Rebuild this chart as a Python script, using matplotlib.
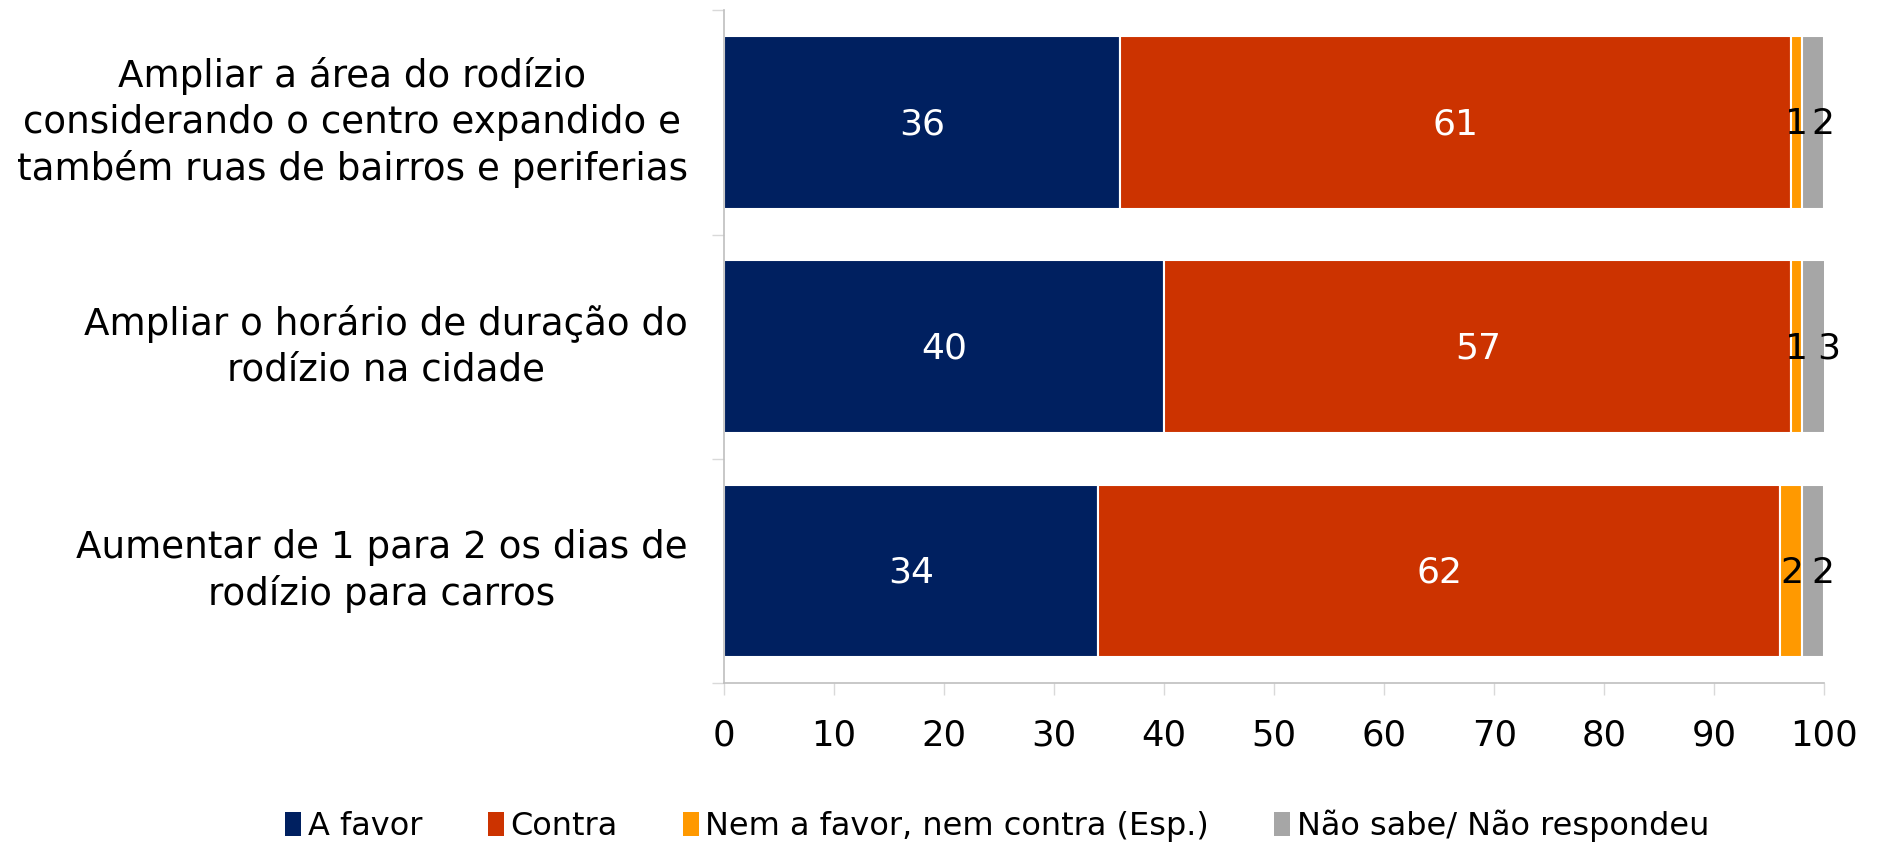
import matplotlib.pyplot as plt
from matplotlib.patches import Patch

categorias = [
    "Ampliar a área do rodízio\nconsiderando o centro expandido e\ntambém ruas de bairros e periferias",
    "Ampliar o horário de duração do\nrodízio na cidade",
    "Aumentar de 1 para 2 os dias de\nrodízio para carros",
]
a_favor = [36, 40, 34]
contra = [61, 57, 62]
nem = [1, 1, 2]
nao_sabe = [2, 3, 2]

series = ["A favor", "Contra", "Nem a favor, nem contra (Esp.)", "Não sabe/ Não respondeu"]
cores = ["#002060", "#CC3300", "#FF9900", "#A6A6A6"]
cor_texto = ["white", "white", "black", "black"]
desloc = [0, 0, 0, 7]  # deslocamento dos rotulos (pontos)

plt.rcParams["font.family"] = ["DejaVu Sans"]

fig = plt.figure(figsize=(18.78, 8.43), dpi=100)
ax = fig.add_axes([0.3855, 0.1898, 0.586, 0.798])

y = list(range(len(categorias)))
esquerda = [0] * len(categorias)
for nome, valores, cor, ct, dx in zip(series, [a_favor, contra, nem, nao_sabe], cores, cor_texto, desloc):
    ax.barh(y, valores, left=esquerda, height=0.77, color=cor,
            edgecolor="white", linewidth=1.5, label=nome)
    for yi, e, v in zip(y, esquerda, valores):
        ax.annotate(str(v), (e + v / 2, yi), xytext=(dx, -1.5), textcoords="offset points",
                    ha="center", va="center", color=ct, fontsize=26)
    esquerda = [e + v for e, v in zip(esquerda, valores)]

ax.set_ylim(2.5, -0.5)
ax.set_xlim(0, 100)
ax.set_xticks(range(0, 101, 10))
ax.tick_params(axis="x", labelsize=25.5, length=8.6, direction="out", pad=17, color="#D9D9D9", width=1)
ax.set_yticks(y)
ax.set_yticklabels(categorias, fontsize=26.8, linespacing=1.3, va="center", multialignment="center")
ax.tick_params(axis="y", length=0, pad=26)
ax.set_yticks([-0.5, 0.5, 1.5, 2.5], minor=True)
ax.tick_params(axis="y", which="minor", length=8.6, color="#D9D9D9", width=1)

for s in ["top", "right"]:
    ax.spines[s].set_visible(False)
for s in ["left", "bottom"]:
    ax.spines[s].set_color("#BFBFBF")
    ax.spines[s].set_linewidth(1.2)

handles = [Patch(facecolor=c) for c in cores]
fig.legend(handles, series, loc="center", bbox_to_anchor=(0.531, 0.02), ncol=4,
           frameon=False, fontsize=23, handlelength=0.5, handleheight=0.8,
           handletextpad=0.2, columnspacing=2.05)

fig.savefig("out.png", dpi=100)
